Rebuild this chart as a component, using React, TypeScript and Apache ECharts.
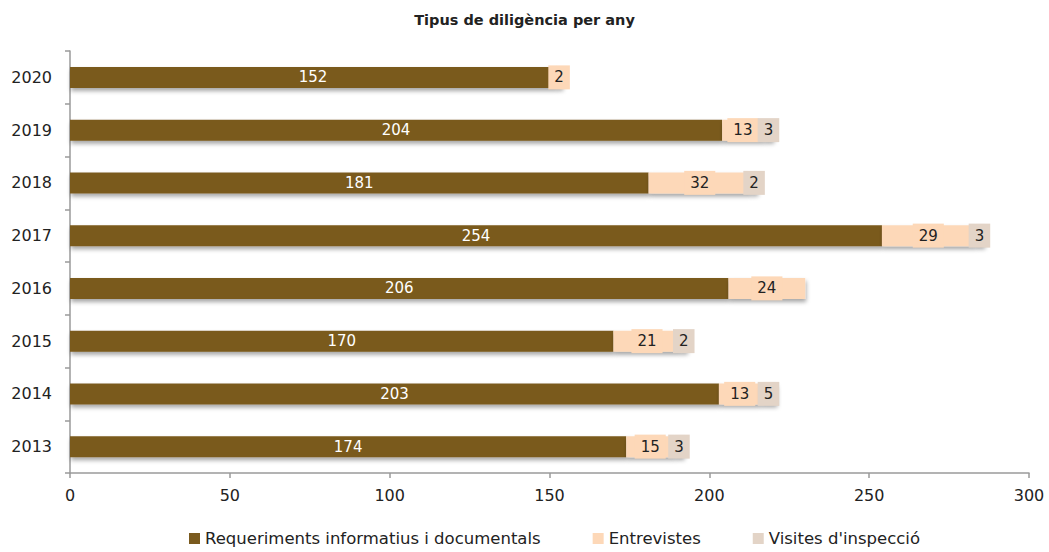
import React, { useEffect, useRef } from "react";
import * as echarts from "echarts";

const years = ["2013", "2014", "2015", "2016", "2017", "2018", "2019", "2020"];
const requeriments = [174, 203, 170, 206, 254, 181, 204, 152];
const entrevistes = [15, 13, 21, 24, 29, 32, 13, 2];
const visites: (number | null)[] = [3, 5, 2, null, 3, 2, 3, null];
const xTicks = [0, 50, 100, 150, 200, 250, 300];

const FONT = "'DejaVu Sans', sans-serif";
const BROWN = "#7A5A1E";
const PEACH = "#FDD8B8";
const GREY = "#E3D4C7";

export default function App() {
  const ref = useRef<HTMLDivElement>(null);
  useEffect(() => {
    if (!ref.current) return;
    const chart = echarts.init(ref.current, undefined, { renderer: "svg" });
    const shadow = {
      shadowColor: "rgba(0,0,0,0.35)",
      shadowBlur: 4,
      shadowOffsetY: 3,
      shadowOffsetX: 1,
    };
    const boxLabel = (bg: string) => ({
      show: true,
      position: "inside",
      color: "#222",
      fontSize: 15,
      fontFamily: FONT,
      backgroundColor: bg,
      padding: [5, 6, 4, 6],
    });
    chart.setOption({
      animation: false,
      textStyle: { fontFamily: FONT },
      title: {
        text: "Tipus de diligència per any",
        left: "center",
        top: 7,
        textStyle: { fontFamily: FONT, fontSize: 14.5, fontWeight: "bold", color: "#222" },
      },
      grid: { left: 70, right: 20, top: 51, bottom: 79, containLabel: false },
      legend: {
        bottom: 0,
        left: 184,
        itemWidth: 11,
        itemHeight: 11,
        itemGap: 52,
        icon: "rect",
        textStyle: { fontFamily: FONT, fontSize: 16.5, color: "#222" },
        data: ["Requeriments informatius i documentals", "Entrevistes", "Visites d'inspecció"],
      },
      xAxis: {
        type: "value",
        min: xTicks[0],
        max: xTicks[xTicks.length - 1],
        interval: 50,
        splitLine: { show: false },
        axisLine: { show: true, lineStyle: { color: "#9a9a9a", width: 1.5 } },
        axisTick: { show: true, length: 5, lineStyle: { color: "#9a9a9a", width: 1.5 } },
        axisLabel: { fontFamily: FONT, fontSize: 16, color: "#222", margin: 14 },
      },
      yAxis: {
        type: "category",
        data: years,
        axisLine: { show: true, lineStyle: { color: "#9a9a9a", width: 1.5 } },
        axisTick: { show: true, length: 5, lineStyle: { color: "#9a9a9a", width: 1.5 } },
        axisLabel: { fontFamily: FONT, fontSize: 16, color: "#222", margin: 18 },
      },
      series: [
        {
          name: "Requeriments informatius i documentals",
          type: "bar",
          stack: "t",
          barWidth: 21,
          data: requeriments,
          itemStyle: { color: BROWN, ...shadow },
          label: { show: true, position: "inside", color: "#fff", fontSize: 15, fontFamily: FONT },
        },
        {
          name: "Entrevistes",
          type: "bar",
          stack: "t",
          barWidth: 21,
          data: entrevistes,
          itemStyle: { color: PEACH, ...shadow },
          label: boxLabel(PEACH),
        },
        {
          name: "Visites d'inspecció",
          type: "bar",
          stack: "t",
          barWidth: 21,
          data: visites,
          itemStyle: { color: GREY, ...shadow },
          label: boxLabel(GREY),
        },
      ],
    });
    return () => chart.dispose();
  }, []);
  return (
    <div
      ref={ref}
      style={{ position: "absolute", left: 0, top: 0, width: 1049, height: 552 }}
    />
  );
}
